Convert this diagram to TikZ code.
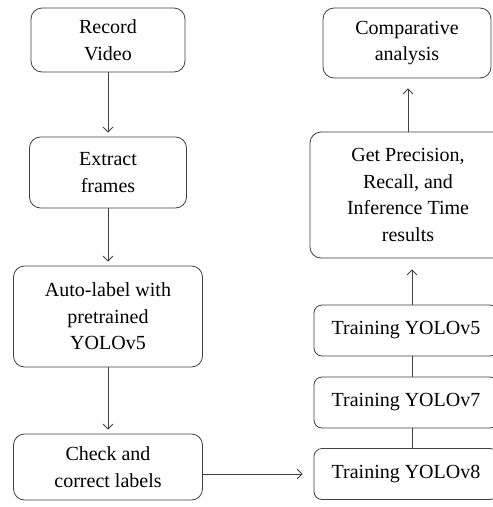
\documentclass[tikz,border=0pt]{standalone}
\usepackage{fontspec}
\setmainfont{Liberation Serif}
\usetikzlibrary{arrows.meta}
\usetikzlibrary{calc}

\begin{document}
\begin{tikzpicture}[->,>={Straight Barb[length=5pt,width=10pt]},x=1pt,y=-1pt,line width=0.8pt,draw=black!75]
\fontsize{20}{26.5}\selectfont
\tikzstyle{step box}=[rounded corners=11pt, draw=black!75, fill=white, align=center, inner sep=0pt, -]
\tikzstyle{train box}=[step box, rounded corners=8pt, minimum width=184pt, minimum height=51pt]
\useasboundingbox (0,0) rectangle (493,507);
\clip (0,0) rectangle (493,507);
% left column
\node[step box, minimum width=154pt, minimum height=64pt] (rec) at (108,40) {Record\\Video};
\node[step box, minimum width=157pt, minimum height=71pt] (ext) at (108,172.5) {Extract\\frames};
\node[step box, minimum width=189pt, minimum height=101pt] (auto) at (108,316.5) {Auto-label with\\pretrained\\YOLOv5};
\node[step box, minimum width=189pt, minimum height=66pt] (chk) at (108,467) {Check and\\correct labels};
% right column
\node[step box, minimum width=168pt, minimum height=70pt] (comp) at (407,43) {Comparative\\analysis};
\node[step box, minimum width=196pt, minimum height=126pt] (res) at (408,195) {Get Precision,\\Recall, and\\Inference Time\\results};
\foreach \v/\y in {5/330.5,7/402.5,8/474}
    \node[train box] (t\v) at (406,\y) {Training YOLOv\v};
% connectors
\foreach \current/\next in {rec/ext,ext/auto,auto/chk}
    \path (\current) edge [shorten >=4pt] (\next);
\path ([xshift=6pt]t8.north) edge [-] ([xshift=6pt]t7.south);
\path ([xshift=6pt]t7.north) edge [-] ([xshift=6pt]t5.south);
\path ([xshift=6pt]t5.north) edge [shorten >=11pt] ([xshift=6pt]t5.north |- res.south);
\path (res.north) edge [shorten >=10pt] (res.north |- comp.south);
\path (chk.east |- t8.west) edge [shorten >=11pt] (t8.west);
\end{tikzpicture}
\end{document}
